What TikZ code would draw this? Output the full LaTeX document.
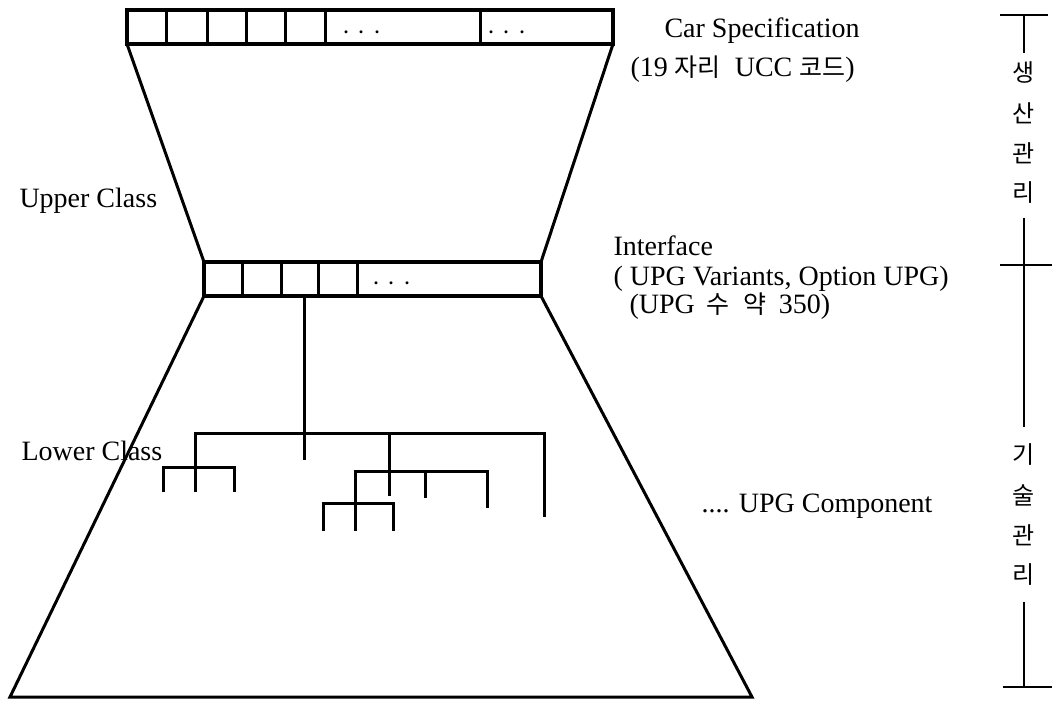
\documentclass[tikz,border=0pt]{standalone}
\usepackage{fontspec}
\setmainfont{Liberation Serif}
\newfontfamily\krfont{Noto Sans CJK KR}
\usetikzlibrary{positioning,calc}
\newcommand{\kr}[1]{{\krfont\fontsize{12.5}{14}\selectfont #1}}
\tikzset{
  px/.style={x=0.5pt, y=-0.5pt, font=\fontsize{14}{16}\selectfont, line width=1.5pt},
  u bar/.style={draw, line width=1.6pt, minimum height=17pt, inner sep=0pt, outer sep=0pt},
  u dots/.style={inner sep=0pt},
  u lbl/.style={anchor=base west, inner sep=0pt},
  u kr/.style={font=\krfont\fontsize{12}{14}\selectfont, inner sep=0pt},
  u tree/.style={line width=1.5pt},
  u axis/.style={line width=1.4pt},
}
\begin{document}
\begin{tikzpicture}[px]
\useasboundingbox (0,0) rectangle (1052,700);
% code bars
\node[u bar, minimum width=243pt] (spec) at (370,27) {};
\node[u bar, minimum width=168.5pt] (intf) at (372.5,279) {};
\foreach \x in {166,207,246,285,325,480} \draw (\x,0 |- spec.north) -- (\x,0 |- spec.south);
\foreach \x in {242,281,318,357} \draw (\x,0 |- intf.north) -- (\x,0 |- intf.south);
\node[u dots] (sdots1) at (362,33) {$\cdot$\hspace{4pt}$\cdot$\hspace{4pt}$\cdot$};
\node[u dots] (sdots2) at (507,33) {$\cdot$\hspace{4pt}$\cdot$\hspace{4pt}$\cdot$};
\node[u dots] (idots) at (392,284) {$\cdot$\hspace{4pt}$\cdot$\hspace{4pt}$\cdot$};
% hourglass
\coordinate (bl) at (10,697); \coordinate (br) at (752,697);
\draw (spec.south west) -- (intf.north west);
\draw (spec.south east) -- (intf.north east);
\draw (intf.south west) -- (bl) -- (br) -- (intf.south east);
% component tree
\coordinate (root) at (304,433); \coordinate (ga) at (195,467);
\coordinate (gc) at (389,471); \coordinate (gd) at (355,503);
\draw[u tree] (intf.south -| root) -- (root) -- (304,460);
\draw[u tree] (ga) |- (544,433) -- (544,517);
\draw[u tree] (gc) -- (gc |- root);
\draw[u tree] (163,492) |- (234,467) -- (234,492);
\draw[u tree] (ga) -- (195,492);
\draw[u tree] (gd) |- (487,471) -- (487,508);
\draw[u tree] (gc) -- (389,496);
\draw[u tree] (425,471) -- (425,498);
\draw[u tree] (323,531) |- (393,503) -- (393,531);
\draw[u tree] (gd) -- (355,531);
% labels
\node[u lbl] (carspec) at (663,38) {Car Specification};
\node[u lbl] (ucc) at (629,77) {(19 \kr{자리}\ \ UCC \kr{코드})};
\node[u lbl] (upper) at (18,207) {Upper Class};
\node[u lbl] (iface) at (612,255) {Interface};
\node[u lbl] (variant) at (612,285) {( UPG Variants, Option UPG)};
\node[u lbl] (count) at (628,313) {(UPG\hspace{6pt}\kr{수}\hspace{7pt}\kr{약}\hspace{6pt}350)};
\node[u lbl] (lower) at (20,460) {Lower Class};
\node[u lbl] (comp) at (700,512) {.... UPG Component};
% management axis
\foreach \t [count=\i] in {생,산,관,리} \node[u kr] (prod\i) at (1024,33+40*\i) {\t};
\foreach \t [count=\i] in {기,술,관,리} \node[u kr] (tech\i) at (1024,415+40*\i) {\t};
\draw[u axis] (1000,15) -- (1048,15);
\draw[u axis] (1024,15) -- (1024,53);
\draw[u axis] (1024,218) -- (1024,427);
\draw[u axis] (1000,265) -- (1052,265);
\draw[u axis] (1024,602) -- (1024,687);
\draw[u axis] (1003,687) -- (1052,687);
\end{tikzpicture}
\end{document}
